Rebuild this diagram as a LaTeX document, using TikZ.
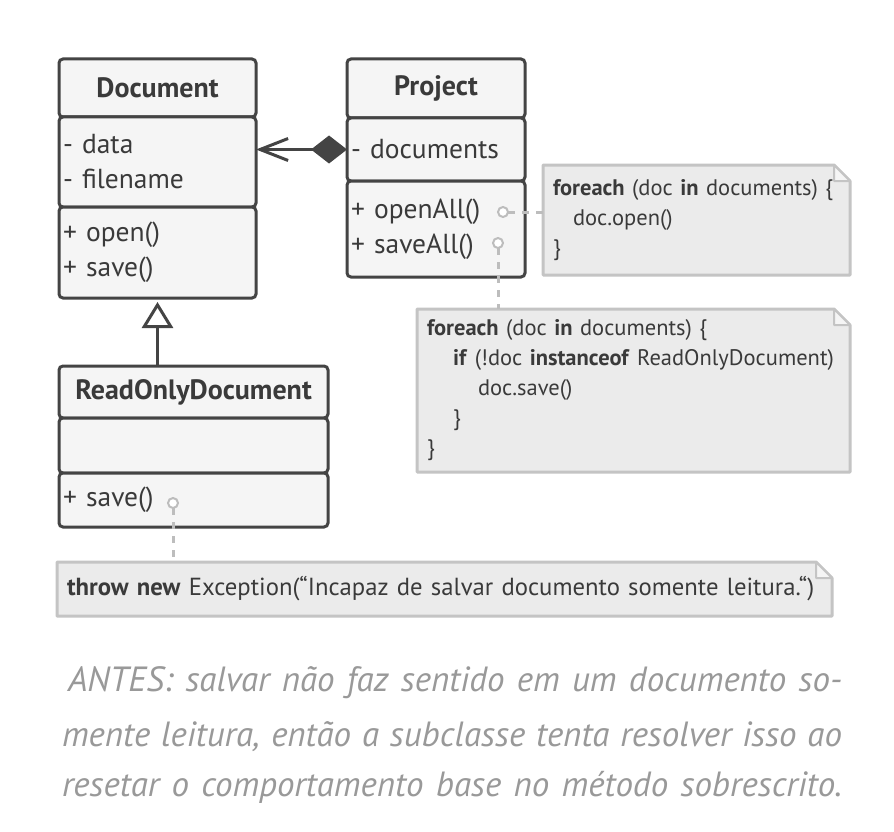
\documentclass[tikz,border=0pt]{standalone}
\usepackage{fontspec}
\setmainfont{PT Sans}
\usepackage{tikz}
\usetikzlibrary{arrows.meta,positioning,backgrounds}

\definecolor{boxline}{HTML}{444444}
\definecolor{boxfill}{HTML}{F5F5F5}
\definecolor{boxtext}{HTML}{3A3A3A}
\definecolor{notefill}{HTML}{EBEBEB}
\definecolor{noteline}{HTML}{C4C4C4}
\definecolor{portline}{HTML}{BDBDBD}
\definecolor{captext}{HTML}{999999}

\begin{document}
\begin{tikzpicture}[x=1pt,y=-1pt,
    every node/.style={outer sep=0pt},
    part/.style={draw=boxline,fill=boxfill,line width=3pt,rounded corners=4pt,
      inner xsep=4pt,inner ysep=0pt,text=boxtext,align=left,
      font=\fontsize{27.5}{35}\selectfont},
    head/.style={part,align=center,font=\bfseries\fontsize{28}{35}\selectfont},
    note/.style={inner xsep=10pt,inner ysep=0pt,text=boxtext,align=left,
      font=\fontsize{22.5}{30}\selectfont},
    port/.style={circle,draw=portline,fill=white,line width=2pt,minimum size=10pt,inner sep=0pt},
    dots/.style={draw=portline,line width=3pt,dash pattern=on 7pt off 7pt},
    captionline/.style={text=captext,font=\itshape\fontsize{35}{40}\selectfont}]

  \useasboundingbox (0,0) rectangle (894,832);

  % classes
  \node[head,text width=189pt,minimum height=58pt] (dochead) at (157.5,88) {Document};
  \node[part,text width=189pt,minimum height=90pt,below=0pt of dochead] (docattr) {- data\\- filename};
  \node[part,text width=189pt,minimum height=91pt,below=0pt of docattr] (docmeth) {+ open()\\+ save()};

  \node[head,text width=170pt,minimum height=59pt] (projhead) at (436,88.5) {Project};
  \node[part,text width=170pt,minimum height=63pt,below=0pt of projhead] (projattr) {- documents};
  \node[part,text width=170pt,minimum height=96pt,below=0pt of projattr] (projmeth) {+ openAll()\\+ saveAll()};

  \node[head,text width=261pt,minimum height=52pt] (rodhead) at (193.5,392) {ReadOnlyDocument};
  \node[part,text width=261pt,minimum height=55pt,below=0pt of rodhead] (rodattr) {};
  \node[part,text width=261pt,minimum height=54pt,below=0pt of rodattr] (rodmeth) {+ save()};

  % notes
  \node[note,text width=287pt,minimum height=110pt,anchor=north west] (noteopen) at (543,165)
    {\textbf{foreach} (doc \textbf{in} documents) \{\\\hspace*{20pt}doc.open()\\\}};
  \node[note,text width=413pt,minimum height=163pt,anchor=north west] (notesave) at (417,309)
    {\textbf{foreach} (doc \textbf{in} documents) \{\\
     \hspace*{26pt}\textbf{if} (!doc \textbf{instanceof} ReadOnlyDocument)\\
     \hspace*{51pt}doc.save()\\
     \hspace*{26pt}\}\\\}};
  \node[note,text width=755pt,minimum height=54pt,anchor=north west,
    font=\fontsize{24.7}{30}\selectfont] (notethrow) at (57,562)
    {\textbf{throw new} Exception(“Incapaz de salvar documento somente leitura.“)};

  \begin{pgfonlayer}{background}
    \fill[white] (0,0) rectangle (894,832);
    \foreach \n in {noteopen,notesave,notethrow} {
      \draw[draw=noteline,fill=notefill,line width=3pt,line join=round]
        (\n.north west) -- ([xshift=-16pt]\n.north east) -- ([yshift=-16pt]\n.north east)
        -- (\n.south east) -- (\n.south west) -- cycle;
      \draw[draw=noteline,fill=boxfill,line width=2pt,line join=round]
        ([xshift=-16pt]\n.north east) -- ([xshift=-16pt,yshift=-16pt]\n.north east)
        -- ([yshift=-16pt]\n.north east) -- cycle;
    }
  \end{pgfonlayer}

  % ports
  \node[port] (openport) at (503,212) {};
  \node[port] (saveport) at (498,243) {};
  \node[port] (rodport) at (173,503) {};

  \draw[dots] (openport) -- (openport -| noteopen.west);
  \draw[dots] (saveport) -- (saveport |- notesave.north);
  \draw[dots] (rodport) -- (rodport |- notethrow.north);

  % relations
  \draw[draw=boxline,line width=3pt,
    {Diamond[length=36pt,width=28pt,fill=boxline]}-{Straight Barb[length=28pt,width=22pt]}]
    (projattr.west) -- (projattr.west -| docattr.east);
  \draw[draw=boxline,line width=3pt,shorten >=4pt,
    -{Triangle[length=26pt,width=31pt,fill=white]}]
    (rodhead.north -| docmeth.south) -- (docmeth.south);

  % caption
  \node[captionline] (cap1) at (455,683) {\makebox[774pt][s]{ANTES: salvar não faz sentido em um documento so-}};
  \node[captionline] (cap2) at (452,737) {\makebox[780pt][s]{mente leitura, então a subclasse tenta resolver isso ao}};
  \node[captionline] (cap3) at (452,787) {\makebox[780pt][s]{resetar o comportamento base no método sobrescrito.}};
\end{tikzpicture}
\end{document}
